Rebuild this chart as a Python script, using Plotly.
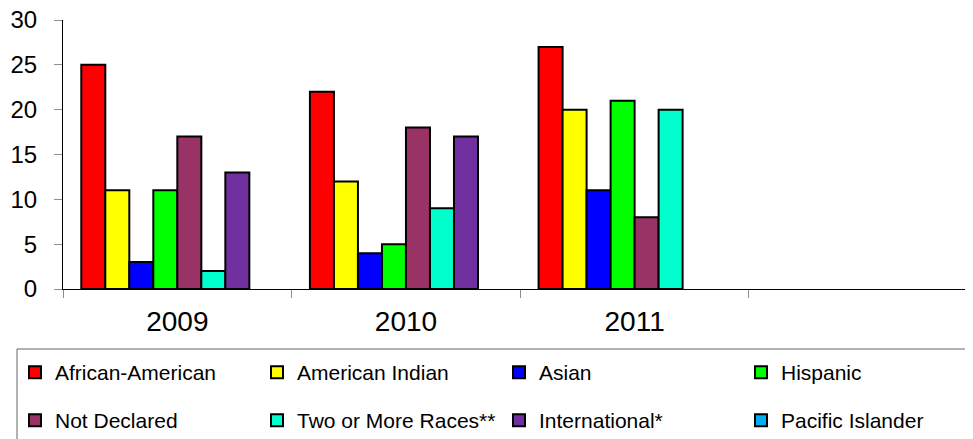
import plotly.graph_objects as go

years = ["2009", "2010", "2011", " "]
series_names = ["African-American", "American Indian", "Asian", "Hispanic",
                "Not Declared", "Two or More Races**", "International*", "Pacific Islander"]
african_american = [25, 22, 27, None]
american_indian = [11, 12, 20, None]
asian = [3, 4, 11, None]
hispanic = [11, 5, 21, None]
not_declared = [17, 18, 8, None]
two_or_more = [2, 9, 20, None]
international = [13, 17, None, None]
pacific_islander = [None, None, None, None]
y_ticks = [0, 5, 10, 15, 20, 25, 30]

values = [african_american, american_indian, asian, hispanic,
          not_declared, two_or_more, international, pacific_islander]
colors = ["#FF0000", "#FFFF00", "#0000FF", "#00FF00",
          "#993366", "#00FFCC", "#7030A0", "#00B0F0"]

# page has an 8px body margin; the figure is sized so it ends at the window edge
OFF = 8
W, H = 973 - OFF, 439 - OFF
L, R, T, B = 63 - OFF, 0, 20 - OFF, 439 - 289
pw = W - L - R
ph = H - T - B

def px_x(page_x):
    return (page_x - OFF - L) / pw

def px_y(page_y):
    return (H - B - (page_y - OFF)) / ph

fig = go.Figure()
for i, (name, vals, col) in enumerate(zip(series_names, values, colors)):
    fig.add_trace(go.Bar(
        x=years, y=vals, name=name,
        marker=dict(color=col, line=dict(color="black", width=2)),
        legend="legend" if i < 4 else "legend2",
    ))

font_family = "Arial, Liberation Sans, sans-serif"
leg_common = dict(
    orientation="h", xanchor="left", yanchor="top",
    entrywidth=197, entrywidthmode="pixels",
    bgcolor="rgba(0,0,0,0)", borderwidth=0,
    font=dict(family=font_family, size=21, color="black"),
    traceorder="normal",
)

fig.update_layout(
    width=W, height=H,
    margin=dict(l=L, r=R, t=T, b=B, pad=0, autoexpand=False),
    paper_bgcolor="white", plot_bgcolor="white",
    barmode="group", bargap=0.16, bargroupgap=0,
    font=dict(family=font_family, color="black"),
    xaxis=dict(
        type="category", categoryorder="array", categoryarray=years,
        range=[-0.5, 3.48], tickson="boundaries",
        showline=True, linecolor="black", linewidth=1,
        ticks="outside", ticklen=8, tickcolor="#8c8c8c", tickwidth=1,
        tickfont=dict(size=28, family=font_family, color="black"),
        ticklabelstandoff=7,
        showgrid=False, zeroline=False,
    ),
    yaxis=dict(
        range=[0, 30], tickvals=y_ticks,
        showline=True, linecolor="black", linewidth=1,
        ticks="outside", ticklen=8, tickcolor="#8c8c8c", tickwidth=1,
        tickfont=dict(size=24, family=font_family, color="black"),
        ticklabelstandoff=12, ticklabeloverflow="allow",
        showgrid=False, zeroline=False,
    ),
    legend=dict(x=px_x(15), y=px_y(352), **leg_common),
    legend2=dict(x=px_x(15), y=px_y(400), **leg_common),
    shapes=[dict(
        type="rect", xref="paper", yref="paper",
        x0=px_x(17), x1=px_x(990), y0=px_y(349), y1=px_y(470),
        line=dict(color="#666666", width=1), fillcolor="rgba(0,0,0,0)",
        layer="above",
    )],
)

fig.write_html("out.html")
